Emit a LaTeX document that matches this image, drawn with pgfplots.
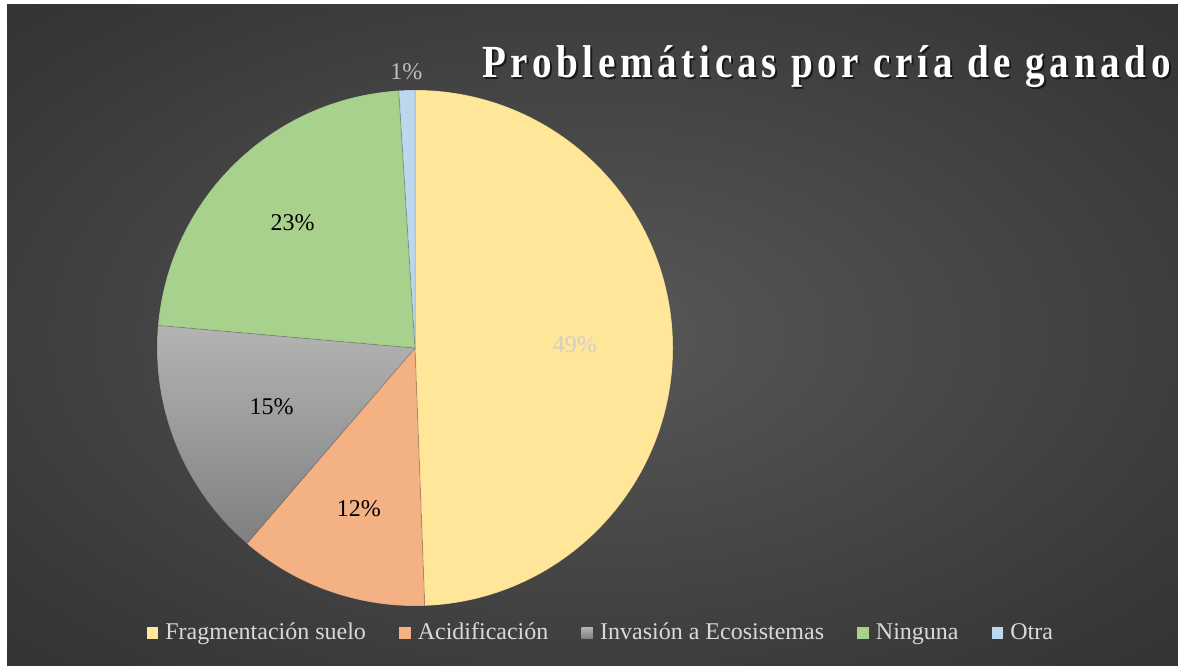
\documentclass[border=0pt]{standalone}
\usepackage{pgfplots}
\pgfplotsset{compat=1.18}
\usepackage{pgfplotstable}
\usepackage{fontspec}
\setmainfont{Liberation Serif}
\newfontfamily\titlefont[LetterSpace=12]{Liberation Serif}
\definecolor{cFrag}{HTML}{FFE699}
\definecolor{cAcid}{HTML}{F4B183}
\definecolor{cInv}{HTML}{A5A5A5}
\definecolor{cInvTop}{HTML}{B4B4B4}
\definecolor{cInvBot}{HTML}{7F7F7F}
\definecolor{cNin}{HTML}{A9D18E}
\definecolor{cOtra}{HTML}{BDD7EE}
\definecolor{bgin}{HTML}{585858}
\definecolor{bgmid}{HTML}{383838}
\definecolor{bgout}{HTML}{282828}
\definecolor{labLight}{HTML}{CFCFCF}
\definecolor{labOut}{HTML}{BFBFBF}
\definecolor{legText}{HTML}{D9D9D9}
\pgfdeclareradialshading{bgshade}{\pgfpoint{0bp}{0bp}}{color(0bp)=(bgin); color(30bp)=(bgmid); color(50bp)=(bgout)}

\pgfplotstableread[col sep=comma]{
name,value,lr,lcol
Fragmentación suelo,49.4,0.62,labLight
Acidificación,11.9,0.66,black
Invasión a Ecosistemas,15.1,0.60,black
Ninguna,22.6,0.68,black
Otra,1.0,1.07,labOut
}\pietable

\tikzset{
  slice0/.style={fill=cFrag},
  slice1/.style={fill=cAcid},
  slice2/.style={top color=cInvTop, bottom color=cInvBot},
  slice3/.style={fill=cNin},
  slice4/.style={fill=cOtra},
}

\begin{document}
\begin{tikzpicture}[x=0.5pt,y=0.5pt]
\useasboundingbox (0,0) rectangle (1178,665);
\fill[white] (0,0) rectangle (1178,665);
\shade[shading=bgshade] (7,0) rectangle (1178,660);
% title
\node[text=black, opacity=0.6, xscale=0.85, font=\titlefont\bfseries\fontsize{23}{27}\selectfont] at (828.5,596) {Problemáticas por cría de ganado};
\node[text=white, xscale=0.85, font=\titlefont\bfseries\fontsize{23}{27}\selectfont] at (826.5,598) {Problemáticas por cría de ganado};
\begin{axis}[
  hide axis, x=129pt, y=129pt,
  xmin=-1, xmax=1, ymin=-1, ymax=1,
  at={(207.5pt,158.5pt)}, anchor=center, clip=false,
  legend columns=5,
  legend style={at={(0.862,-0.052)}, anchor=center, draw=none, fill=none,
    text=legText, font=\fontsize{12}{14}\selectfont,
    /tikz/every even column/.append style={column sep=14.5pt},
    inner sep=0pt},
  legend image code/.code={\fill[#1, draw=none] (0pt,-2.9pt) rectangle (5.8pt,2.9pt);
    \path (7.2pt,0pt);},
]
\def\cum{0}
\pgfplotsforeachungrouped \i in {0,...,4}{%
  \pgfplotstablegetelem{\i}{value}\of\pietable \let\v\pgfplotsretval
  \pgfplotstablegetelem{\i}{lr}\of\pietable \let\lr\pgfplotsretval
  \pgfplotstablegetelem{\i}{lcol}\of\pietable \let\lc\pgfplotsretval
  \pgfmathsetmacro\startA{90-3.6*\cum}
  \pgfmathsetmacro\endA{90-3.6*(\cum+\v)}
  \pgfmathsetmacro\midA{(\startA+\endA)/2}
  \pgfmathsetmacro\cum{\cum+\v}
  \pgfmathsetmacro\lx{\lr*cos(\midA)}
  \pgfmathsetmacro\ly{\lr*sin(\midA)}
  \pgfmathtruncatemacro\pct{round(\v)}
  \edef\temp{%
    \noexpand\path[slice\i, draw=black, draw opacity=0.12, line width=0.5pt]
      (axis cs:0,0) -- (axis cs:{cos(\startA)},{sin(\startA)})
      arc[start angle=\startA, end angle=\endA, radius=129pt] -- cycle;
    \noexpand\node[text=\lc, font=\noexpand\fontsize{12}{14}\noexpand\selectfont]
      at (axis cs:\lx,\ly) {\pct\noexpand\%};
  }%
  \temp
}
\addlegendimage{fill=cFrag}\addlegendentry{Fragmentación suelo}
\addlegendimage{fill=cAcid}\addlegendentry{Acidificación}
\addlegendimage{top color=cInvTop, bottom color=cInvBot}\addlegendentry{Invasión a Ecosistemas}
\addlegendimage{fill=cNin}\addlegendentry{Ninguna}
\addlegendimage{fill=cOtra}\addlegendentry{Otra}
\end{axis}
\end{tikzpicture}
\end{document}
